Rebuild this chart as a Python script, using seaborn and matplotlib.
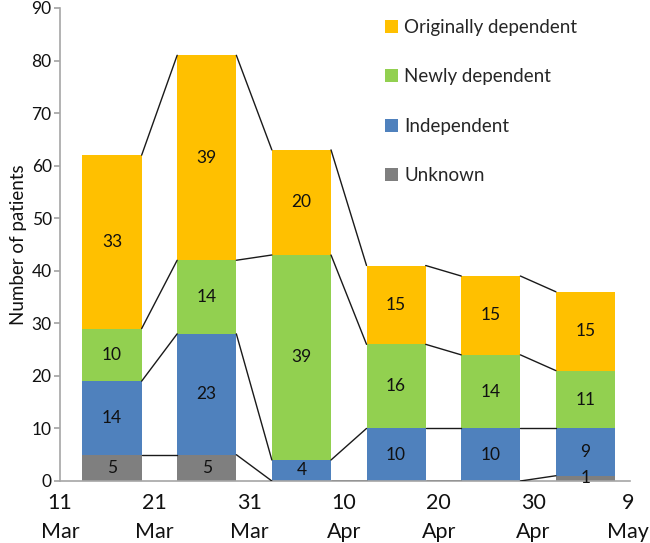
import matplotlib
matplotlib.use("Agg")
import matplotlib.pyplot as plt
import seaborn as sns
import numpy as np
import pandas as pd

# bar centres, in days after 11 Mar
days = [5.5, 15.5, 25.5, 35.5, 45.5, 55.5]

# patient counts per group (bottom to top of each stack)
unknown = [5, 5, 0, 0, 0, 1]
independent = [14, 23, 4, 10, 10, 9]
newly_dep = [10, 14, 39, 16, 14, 11]
orig_dep = [33, 39, 20, 15, 15, 15]

group_names = ["Unknown", "Independent", "Newly dependent", "Originally dependent"]
group_colors = ["#7F7F7F", "#4F81BD", "#92D050", "#FFC000"]

tick_days = [0, 10, 20, 30, 40, 50, 60]
tick_labels = ["11\nMar", "21\nMar", "31\nMar", "10\nApr", "20\nApr", "30\nApr", "9\nMay"]

sns.set_theme(style="white")
plt.rcParams["font.family"] = ["Lato", "DejaVu Sans"]

counts = np.array([unknown, independent, newly_dep, orig_dep])
tops = counts.cumsum(axis=0)
bottoms = tops - counts

fig = plt.figure(figsize=(6.5, 5.43), dpi=100)
ax = fig.add_axes([0.0923, 0.1142, 0.8769, 0.8711])

bar_w = 0.625
# draw full-height bars from the top group down so lower groups sit on top
for i in range(3, -1, -1):
    df = pd.DataFrame({"day": days, "top": tops[i]})
    sns.barplot(data=df, x="day", y="top", native_scale=True, width=bar_w,
                color=group_colors[i], saturation=1, errorbar=None,
                linewidth=0, label=group_names[i], ax=ax)

# series lines joining the segment tops of neighbouring bars
half = bar_w * 10 / 2
for i in range(4):
    for j in range(len(days) - 1):
        ax.plot([days[j] + half, days[j + 1] - half], [tops[i][j], tops[i][j + 1]],
                color="#1a1a1a", lw=1, zorder=3)

# value labels in the middle of each segment
for i in range(4):
    for j in range(len(days)):
        if counts[i][j] > 0:
            ax.text(days[j], bottoms[i][j] + counts[i][j] / 2, str(counts[i][j]),
                    ha="center", va="center", fontsize=12.5, color="#111111", zorder=4)

ax.set_xlim(0, 60.2)
ax.set_ylim(0, 90)
ax.set_yticks(range(0, 91, 10))
ax.set_xticks(tick_days)
ax.set_xticklabels(tick_labels, linespacing=1.55)
ax.set_xlabel("")
ax.set_ylabel("Number of patients", fontsize=13.5, color="#111111", labelpad=3)

for s in ["top", "right"]:
    ax.spines[s].set_visible(False)
for s in ["left", "bottom"]:
    ax.spines[s].set_color("#A6A6A6")
    ax.spines[s].set_linewidth(1.2)
ax.tick_params(axis="y", length=4, color="#A6A6A6", labelsize=12.5, labelcolor="#111111", pad=2, left=True)
ax.tick_params(axis="x", length=0, labelsize=15.5, labelcolor="#111111", pad=9)

handles, labels = ax.get_legend_handles_labels()
ax.legend(handles, labels, loc="upper left", bbox_to_anchor=(0.54, 1.012), frameon=False,
          handlelength=0.7, handleheight=0.7, handletextpad=0.35, labelspacing=1.72,
          fontsize=13.5)

fig.savefig("out.png", dpi=100)
